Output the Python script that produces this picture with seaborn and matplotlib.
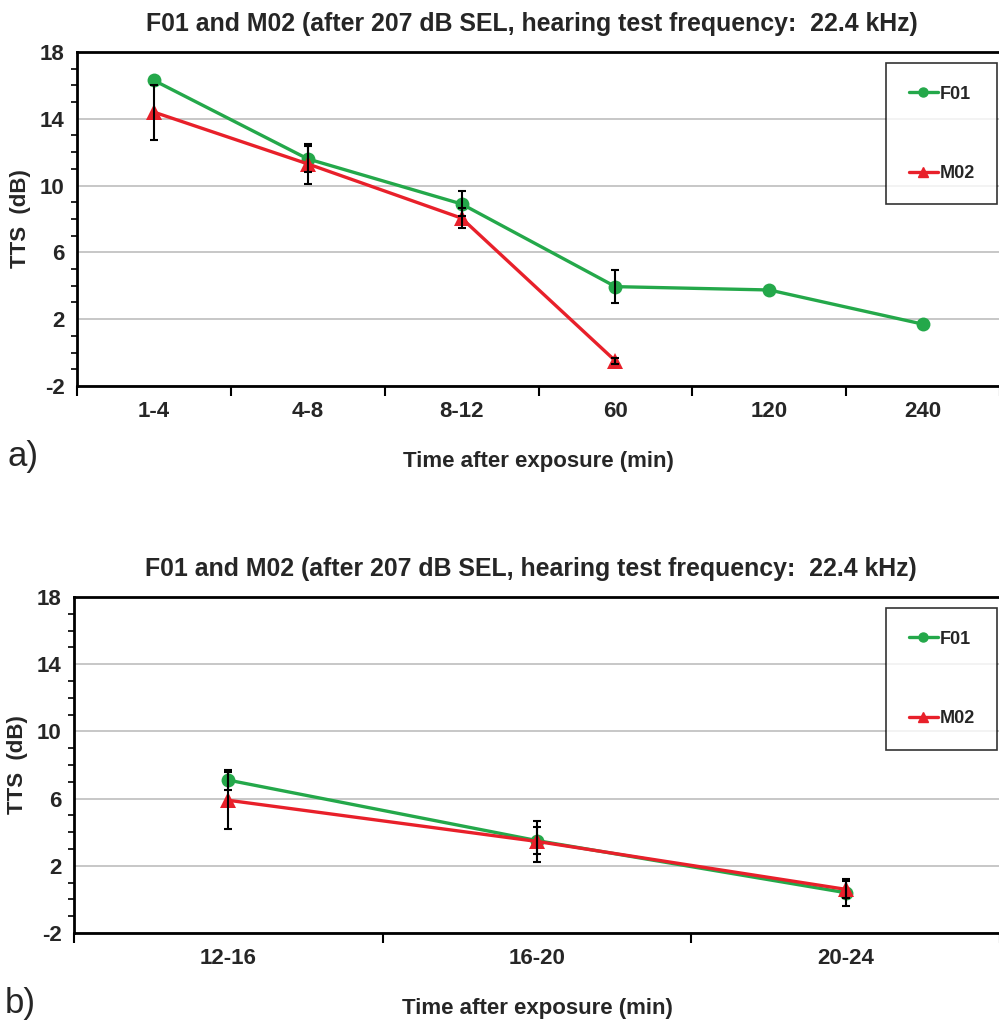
import numpy as np
import pandas as pd
import matplotlib.pyplot as plt
import seaborn as sns
from matplotlib.ticker import MultipleLocator, FixedLocator

# panel a) data
times_a = ['1-4', '4-8', '8-12', '60', '120', '240']
f01_a = [16.3, 11.6, 8.9, 3.95, 3.75, 1.7]
f01_a_err = [np.nan, 0.8, 0.75, 1.0, np.nan, np.nan]
m02_a = [14.4, 11.3, 8.05, -0.5]
m02_a_err = [1.65, 1.2, 0.6, 0.2]

# panel b) data
times_b = ['12-16', '16-20', '20-24']
f01_b = [7.1, 3.5, 0.4]
f01_b_err = [0.6, 0.8, 0.8]
m02_b = [5.9, 3.45, 0.6]
m02_b_err = [1.7, 1.2, 0.5]

GREEN = '#24a84a'
RED = '#e8202a'
TITLE = 'F01 and M02 (after 207 dB SEL, hearing test frequency:  22.4 kHz)'

sns.set_style('white')
plt.rcParams['font.family'] = ['Liberation Sans', 'DejaVu Sans']
plt.rcParams['axes.unicode_minus'] = False


def make_df(times, f01, m02):
    rows = []
    for i, v in enumerate(f01):
        rows.append({'pos': i, 'tts': v, 'animal': 'F01'})
    for i, v in enumerate(m02):
        rows.append({'pos': i, 'tts': v, 'animal': 'M02'})
    return pd.DataFrame(rows)


def draw_panel(ax, times, f01, f01_err, m02, m02_err, letter):
    df = make_df(times, f01, m02)
    sns.lineplot(data=df, x='pos', y='tts', hue='animal', style='animal',
                 palette={'F01': GREEN, 'M02': RED},
                 markers={'F01': 'o', 'M02': '^'}, dashes=False,
                 markersize=10, markeredgewidth=0, linewidth=2.4,
                 ax=ax, legend=False, zorder=3)
    for line in ax.lines:
        if line.get_marker() == '^':
            line.set_markersize(11.5)
    ax.errorbar(range(len(f01)), f01, yerr=f01_err, fmt='none', ecolor='black',
                elinewidth=1.5, capsize=3, capthick=1.5, zorder=4)
    ax.errorbar(range(len(m02)), m02, yerr=m02_err, fmt='none', ecolor='black',
                elinewidth=1.5, capsize=3, capthick=1.5, zorder=4)

    n = len(times)
    ax.set_xlim(-0.5, n - 0.5)
    ax.set_ylim(-2, 18)
    ax.yaxis.set_major_locator(FixedLocator([-2, 2, 6, 10, 14, 18]))
    ax.yaxis.set_minor_locator(MultipleLocator(1))
    ax.set_xticks(range(n))
    ax.set_xticklabels(times)
    ax.xaxis.set_minor_locator(FixedLocator([k - 0.5 for k in range(n + 1)]))
    ax.tick_params(axis='both', which='major', direction='out', length=6,
                   width=1.5, color='black', labelsize=16, pad=3)
    ax.tick_params(axis='x', which='major', length=4, pad=7)
    ax.tick_params(axis='x', which='minor', direction='out', length=7,
                   width=1.5, color='black', bottom=True)
    ax.tick_params(axis='y', which='minor', direction='out', length=4,
                   width=1.2, color='black', left=True)
    for lab in ax.get_xticklabels() + ax.get_yticklabels():
        lab.set_fontweight('bold')

    ax.grid(axis='y', which='major', color='#bdbdbd', linewidth=1.2)
    ax.set_axisbelow(True)
    for side in ['left', 'bottom', 'top']:
        ax.spines[side].set_color('black')
        ax.spines[side].set_linewidth(2)
    ax.spines['right'].set_visible(False)

    ax.set_title(TITLE, fontsize=17.9, fontweight='bold', pad=15, x=0.493)
    ax.set_xlabel('Time after exposure (min)', fontsize=16, fontweight='bold',
                  labelpad=21)
    ax.set_ylabel('TTS  (dB)', fontsize=16, fontweight='bold', labelpad=6)

    h1, = ax.plot([], [], color=GREEN, marker='o', markersize=6.5, linewidth=2.4)
    h2, = ax.plot([], [], color=RED, marker='^', markersize=7, linewidth=2.4)
    leg = ax.legend([h1, h2], ['F01', 'M02'], loc='upper right',
                    bbox_to_anchor=(0.997, 0.967), frameon=True, fancybox=False,
                    edgecolor='black', labelspacing=3.45, handlelength=1.6,
                    handletextpad=0.1, borderpad=1.25, borderaxespad=0,
                    prop={'weight': 'bold', 'size': 13})
    leg.get_frame().set_linewidth(1.2)

    ax.text(-0.075, -0.21, letter, transform=ax.transAxes, fontsize=25,
            ha='left', va='center')


fig = plt.figure(figsize=(9.99, 10.21), dpi=100)
ax1 = fig.add_axes([77 / 999, 1 - 386 / 1021, 923 / 999, 334 / 1021])
ax2 = fig.add_axes([74 / 999, 1 - 933 / 1021, 926 / 999, 336 / 1021])

draw_panel(ax1, times_a, f01_a, f01_a_err, m02_a, m02_a_err, 'a)')
draw_panel(ax2, times_b, f01_b, f01_b_err, m02_b, m02_b_err, 'b)')

fig.savefig('out.png', dpi=100)
